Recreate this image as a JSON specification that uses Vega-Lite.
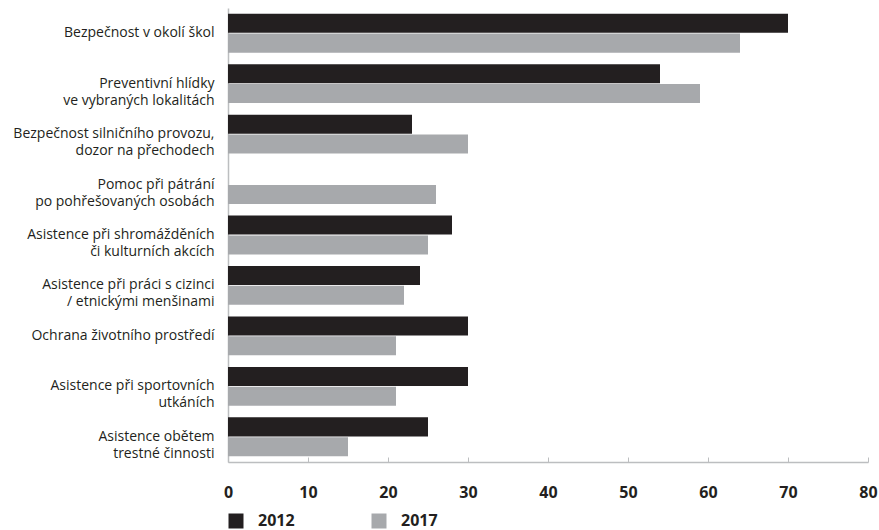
{
  "$schema": "https://vega.github.io/schema/vega-lite/v6.json",
  "width": 640,
  "height": 454,
  "autosize": {"type": "none"},
  "padding": {"left": 228, "top": 8, "right": 11, "bottom": 68},
  "background": "white",
  "config": {
    "view": {"stroke": null},
    "font": "Open Sans"
  },
  "data": {
    "values": [
      {"kategorie": "Bezpečnost v okolí škol", "rok": "2012", "hodnota": 70},
      {"kategorie": "Bezpečnost v okolí škol", "rok": "2017", "hodnota": 64},
      {"kategorie": "Preventivní hlídky\nve vybraných lokalitách", "rok": "2012", "hodnota": 54},
      {"kategorie": "Preventivní hlídky\nve vybraných lokalitách", "rok": "2017", "hodnota": 59},
      {"kategorie": "Bezpečnost silničního provozu,\ndozor na přechodech", "rok": "2012", "hodnota": 23},
      {"kategorie": "Bezpečnost silničního provozu,\ndozor na přechodech", "rok": "2017", "hodnota": 30},
      {"kategorie": "Pomoc při pátrání\npo pohřešovaných osobách", "rok": "2012", "hodnota": 0},
      {"kategorie": "Pomoc při pátrání\npo pohřešovaných osobách", "rok": "2017", "hodnota": 26},
      {"kategorie": "Asistence při shromážděních\nči kulturních akcích", "rok": "2012", "hodnota": 28},
      {"kategorie": "Asistence při shromážděních\nči kulturních akcích", "rok": "2017", "hodnota": 25},
      {"kategorie": "Asistence při práci s cizinci\n/ etnickými menšinami", "rok": "2012", "hodnota": 24},
      {"kategorie": "Asistence při práci s cizinci\n/ etnickými menšinami", "rok": "2017", "hodnota": 22},
      {"kategorie": "Ochrana životního prostředí", "rok": "2012", "hodnota": 30},
      {"kategorie": "Ochrana životního prostředí", "rok": "2017", "hodnota": 21},
      {"kategorie": "Asistence při sportovních\nutkáních", "rok": "2012", "hodnota": 30},
      {"kategorie": "Asistence při sportovních\nutkáních", "rok": "2017", "hodnota": 21},
      {"kategorie": "Asistence obětem\ntrestné činnosti", "rok": "2012", "hodnota": 25},
      {"kategorie": "Asistence obětem\ntrestné činnosti", "rok": "2017", "hodnota": 15}
    ]
  },
  "mark": {"type": "bar"},
  "encoding": {
    "y": {
      "field": "kategorie",
      "type": "nominal",
      "sort": null,
      "title": null,
      "scale": {"paddingInner": 0.23, "paddingOuter": 0.115},
      "axis": {
        "labelExpr": "split(datum.label, '\\n')",
        "labelLineHeight": 17,
        "labelFontSize": 14,
        "labelColor": "#231f20",
        "labelPadding": 14,
        "labelLimit": 300,
        "ticks": false,
        "domainColor": "#bcbec0",
        "domainWidth": 1.5
      }
    },
    "yOffset": {
      "field": "rok",
      "type": "nominal",
      "scale": {"paddingInner": 0.04}
    },
    "x": {
      "field": "hodnota",
      "type": "quantitative",
      "title": null,
      "scale": {"domain": [0, 80], "nice": false},
      "axis": {
        "values": [0, 10, 20, 30, 40, 50, 60, 70, 80],
        "grid": false,
        "domainColor": "#bcbec0",
        "domainWidth": 1.5,
        "tickColor": "#bcbec0",
        "tickWidth": 1,
        "tickSize": -5,
        "labelFontSize": 16,
        "labelFontWeight": "bold",
        "labelColor": "#231f20",
        "labelPadding": 27,
        "labelFlush": false
      }
    },
    "color": {
      "field": "rok",
      "type": "nominal",
      "title": null,
      "scale": {"domain": ["2012", "2017"], "range": ["#231f20", "#a7a9ac"]},
      "legend": {
        "orient": "none",
        "legendX": 0,
        "legendY": 505,
        "direction": "horizontal",
        "symbolType": "square",
        "symbolSize": 225,
        "symbolStrokeWidth": 0,
        "labelFontSize": 16,
        "labelFontWeight": "bold",
        "labelColor": "#231f20",
        "labelOffset": 14,
        "columnPadding": 76,
        "padding": 0
      }
    }
  }
}
